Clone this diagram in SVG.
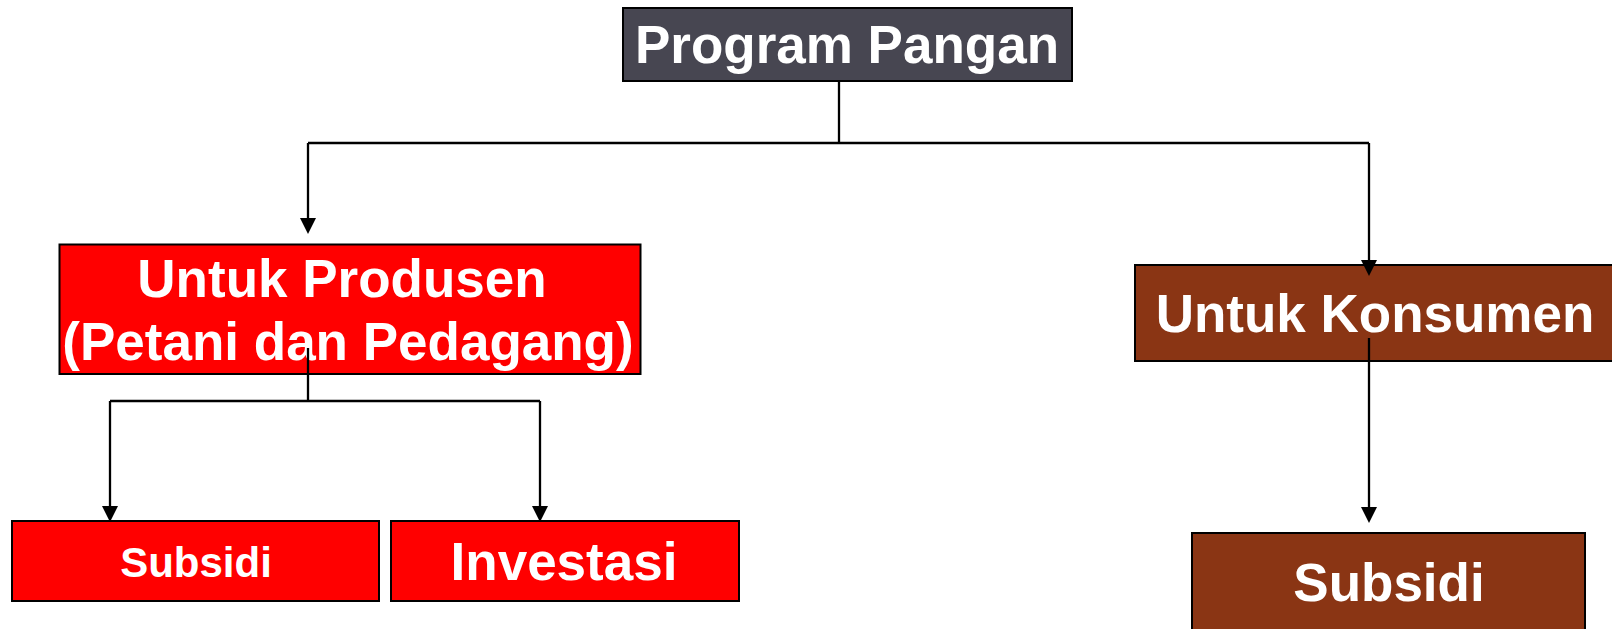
<svg xmlns="http://www.w3.org/2000/svg" width="1612" height="629" viewBox="0 0 1612 629">
  <style>
    .lbl { font-family: "Liberation Sans", Arial, sans-serif; font-weight: bold; fill: #ffffff; text-anchor: middle; }
    .box { stroke: #000000; stroke-width: 2; }
    .red { fill: #ff0000; }
    .brown { fill: #8a3514; }
    .dark { fill: #474651; }
    .conn { fill: none; stroke: #000000; stroke-width: 2.3; }
    .arr { marker-end: url(#ah); }
  </style>
  <defs>
    <marker id="ah" markerUnits="userSpaceOnUse" viewBox="0 0 16 16" refX="8" refY="8" markerWidth="16" markerHeight="16" orient="auto">
      <path d="M0,0 L16,8 L0,16 Z" fill="#000000"/>
    </marker>
  </defs>
  <rect width="1612" height="629" fill="#ffffff"/>

  <g id="program-pangan">
    <rect class="box dark" x="623" y="8" width="449" height="73"/>
    <text class="lbl" x="847" y="63" font-size="53">Program Pangan</text>
  </g>

  <g id="untuk-produsen">
    <rect class="box red" x="59.5" y="244.5" width="581" height="129.5"/>
    <text class="lbl" x="342" y="297" font-size="53">Untuk Produsen</text>
    <text class="lbl" x="348" y="360" font-size="53">(Petani dan Pedagang)</text>
  </g>

  <g id="untuk-konsumen">
    <rect class="box brown" x="1135" y="265" width="490" height="96"/>
    <text class="lbl" x="1375" y="332" font-size="53">Untuk Konsumen</text>
  </g>

  <g id="subsidi-produsen">
    <rect class="box red" x="12" y="521" width="367" height="80"/>
    <text class="lbl" x="196" y="577" font-size="42">Subsidi</text>
  </g>

  <g id="investasi">
    <rect class="box red" x="391" y="521" width="348" height="80"/>
    <text class="lbl" x="564" y="580" font-size="53">Investasi</text>
  </g>

  <g id="subsidi-konsumen">
    <rect class="box brown" x="1192" y="533" width="393" height="110"/>
    <text class="lbl" x="1389" y="601" font-size="53">Subsidi</text>
  </g>

  <g id="connectors">
    <path class="conn" d="M839,81 V143 M308,143 H1369"/>
    <path class="conn arr" d="M308,143 V226"/>
    <path class="conn arr" d="M1369,143 V268"/>
    <path class="conn" d="M308,348 V401 M110,401 H540"/>
    <path class="conn arr" d="M110,401 V514"/>
    <path class="conn arr" d="M540,401 V514"/>
    <path class="conn arr" d="M1369,338 V515"/>
  </g>
</svg>
